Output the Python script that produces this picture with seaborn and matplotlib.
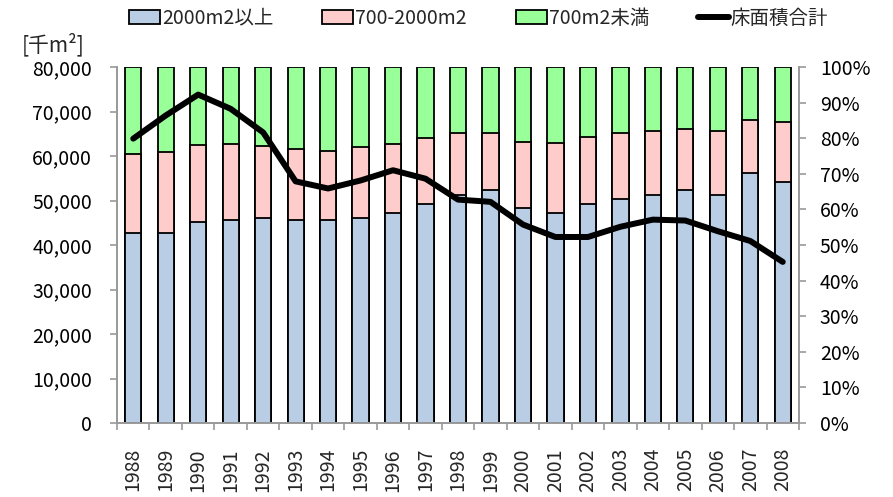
import numpy as np
import pandas as pd
import matplotlib
matplotlib.use("Agg")
import matplotlib.pyplot as plt
import seaborn as sns
from matplotlib.ticker import FuncFormatter, MultipleLocator

# ---------------------------------------------------------------
# data
# ---------------------------------------------------------------
years = [str(y) for y in range(1988, 2009)]

# shares of floor area by store size [%]
share_large = [53.4, 53.4, 56.4, 56.9, 57.5, 56.9, 56.9, 57.5, 59.0, 61.4, 64.1,
               65.4, 60.3, 58.9, 61.4, 62.9, 64.0, 65.4, 64.0, 70.1, 67.6]   # 2000m2以上
share_mid = [22.2, 22.6, 21.7, 21.6, 20.4, 20.1, 19.6, 19.9, 19.5, 18.7, 17.5,
             16.2, 18.7, 19.7, 19.0, 18.7, 18.1, 17.1, 18.1, 15.0, 17.0]     # 700-2000m2
share_small = [24.4, 24.0, 21.9, 21.5, 22.1, 23.0, 23.5, 22.6, 21.5, 19.9, 18.4,
               18.4, 21.0, 21.4, 19.6, 18.4, 17.9, 17.5, 17.9, 14.9, 15.4]   # 700m2未満

# total floor area [千m2]
floor_total = [63900, 69100, 73800, 70600, 65300, 54300, 52700, 54500, 56800, 54900, 50200,
               49700, 44600, 41800, 41800, 44100, 45700, 45500, 43100, 40900, 36200]

labels = ["2000m2以上", "700-2000m2", "700m2未満", "床面積合計"]
colors = ["#B9CDE5", "#FFCCCC", "#99FF99"]

df = pd.DataFrame({"year": years, "large": share_large, "mid": share_mid,
                   "small": share_small, "total": floor_total})
df["top_mid"] = df["large"] + df["mid"]
df["top_small"] = df["top_mid"] + df["small"]

# ---------------------------------------------------------------
# plot
# ---------------------------------------------------------------
sns.set_theme(style="white")
plt.rcParams["font.family"] = ["Noto Sans CJK JP", "DejaVu Sans"]

fig, ax = plt.subplots(figsize=(8.93, 4.97), dpi=100)
fig.subplots_adjust(left=117 / 893, right=799 / 893, top=1 - 67 / 497, bottom=1 - 423 / 497)

# stacked 100% bars drawn back-to-front (cumulative heights)
bar_kw = dict(edgecolor="black", linewidth=1.3, width=0.5, saturation=1, ax=ax)
sns.barplot(data=df, x="year", y="top_small", color=colors[2], label=labels[2], **bar_kw)
sns.barplot(data=df, x="year", y="top_mid", color=colors[1], label=labels[1], **bar_kw)
sns.barplot(data=df, x="year", y="large", color=colors[0], label=labels[0], **bar_kw)

ax.set_ylim(0, 100)
ax.set_xlim(-0.5, len(years) - 0.5)
ax.set_xlabel("")
ax.set_ylabel("")

# line on twin axis (left scale)
ax2 = ax.twinx()
sns.lineplot(x=np.arange(len(years)), y=df["total"], ax=ax2, color="black", linewidth=4.3,
             label=labels[3], solid_capstyle="round", solid_joinstyle="round")
ax2.set_ylim(0, 80000)
ax2.set_ylabel("")

# swap sides: percentages on the right, floor area on the left
ax.yaxis.tick_right()
ax2.yaxis.tick_left()

grey = "#999999"
for a in (ax, ax2):
    a.spines["top"].set_visible(False)
    for s in ("left", "right", "bottom"):
        a.spines[s].set_color(grey)
        a.spines[s].set_linewidth(1.2)

ax.yaxis.set_major_locator(MultipleLocator(10))
ax.yaxis.set_major_formatter(FuncFormatter(lambda v, p: f"{v:.0f}%"))
ax.tick_params(axis="y", which="major", direction="out", length=5, width=1.2, color=grey,
               labelsize=14, labelcolor="black", pad=10, right=True, left=False)

ax2.yaxis.set_major_locator(MultipleLocator(10000))
ax2.yaxis.set_major_formatter(FuncFormatter(lambda v, p: f"{v:,.0f}"))
ax2.tick_params(axis="y", which="major", direction="out", length=5, width=1.2, color=grey,
                labelsize=14, labelcolor="black", pad=13, left=True, right=False)

# x axis: labels at bar centres, tick marks at category boundaries
ax.set_xticks(np.arange(len(years)))
ax.set_xticklabels(years, rotation=90)
ax.set_xticks(np.arange(len(years) + 1) - 0.5, minor=True)
ax.tick_params(axis="x", which="major", length=0, labelsize=14, pad=18)
ax.tick_params(axis="x", which="minor", direction="out", length=5, width=1.2, color=grey, bottom=True)

# legend
h1, l1 = ax.get_legend_handles_labels()
h2, l2 = ax2.get_legend_handles_labels()
ax.legend_.remove() if ax.legend_ else None
ax2.legend_.remove() if ax2.legend_ else None
handles = [h1[l1.index(labels[0])], h1[l1.index(labels[1])], h1[l1.index(labels[2])], h2[0]]
fig.legend(handles, labels, loc="center", bbox_to_anchor=(0.536, 1 - 18 / 497), ncol=4,
           frameon=False, fontsize=14, handlelength=1.6, handletextpad=0.1, columnspacing=2.5)

fig.text(22 / 893, 1 - 45 / 497, "[千m²]", fontsize=15, ha="left", va="center")

fig.savefig("out.png", dpi=100)
